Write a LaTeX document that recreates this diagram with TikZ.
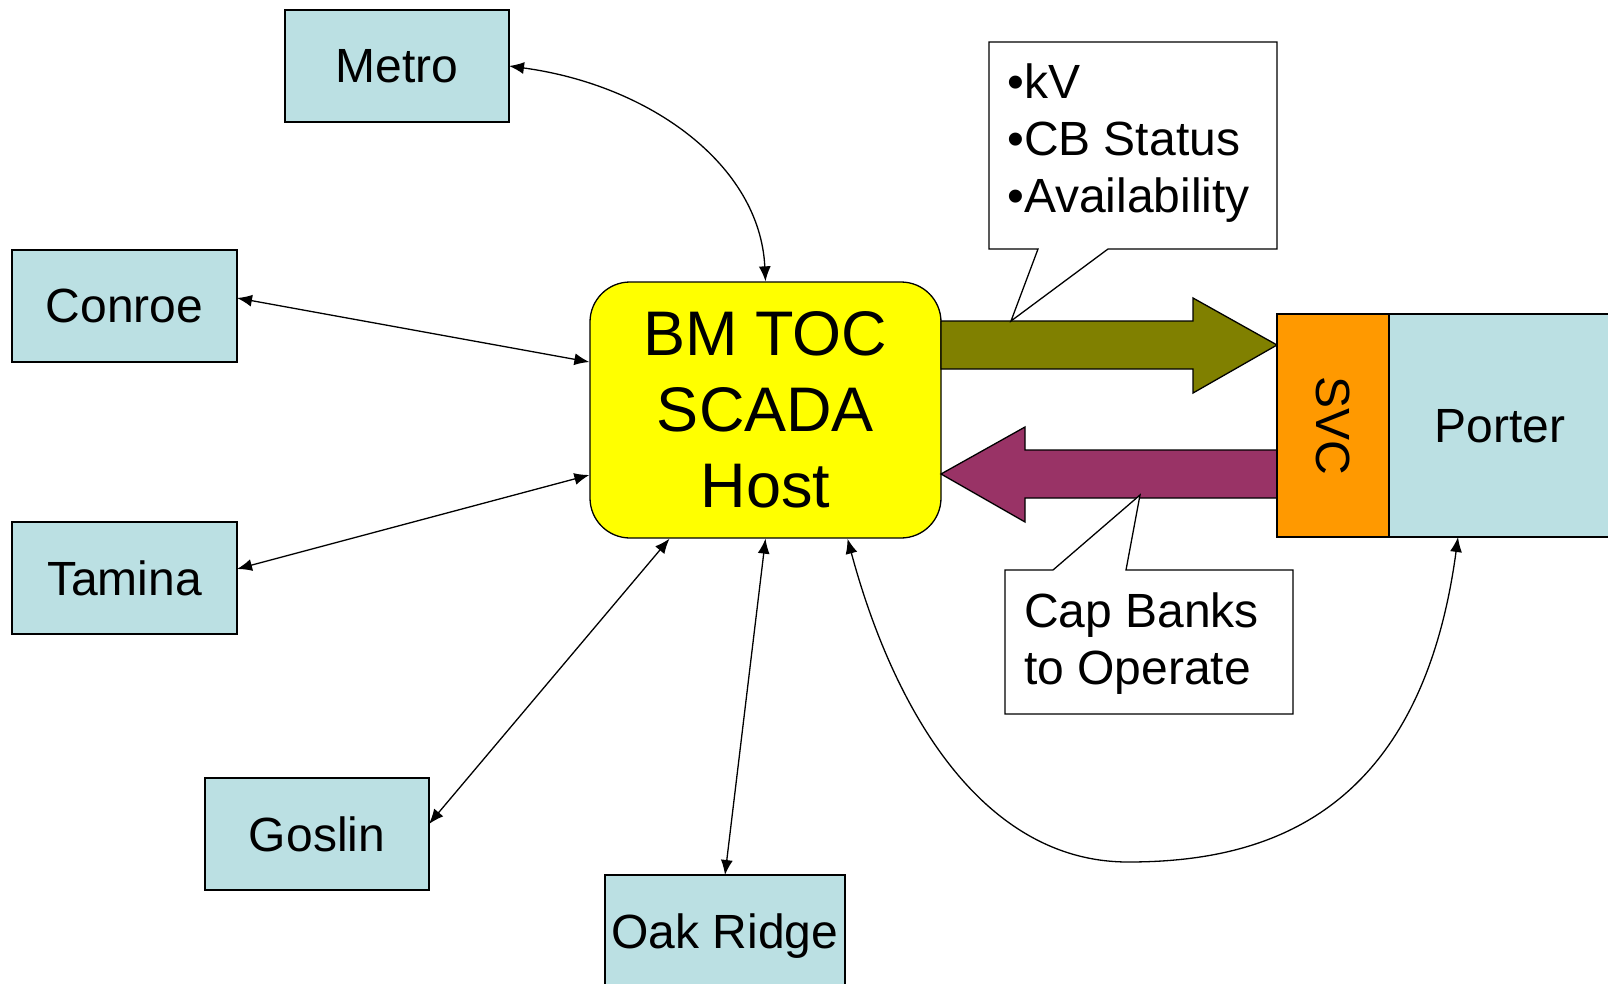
\documentclass[tikz,border=0pt]{standalone}
\usepackage{fontspec}
\setmainfont{Liberation Sans}
\usetikzlibrary{arrows.meta,calc}
\definecolor{lblue}{HTML}{BBE0E3}
\definecolor{scadayellow}{HTML}{FFFF00}
\definecolor{olivearrow}{HTML}{808000}
\definecolor{maroonarrow}{HTML}{993366}
\definecolor{svcorange}{HTML}{FF9900}
\begin{document}
\begin{tikzpicture}[x=1pt,y=-1pt,
  box/.style={draw=black, line width=1.3pt, fill=lblue, inner sep=0pt, outer sep=0pt,
    text depth=0pt, font=\fontsize{48}{57}\selectfont},
  link/.style={line width=1.3pt, {Latex[length=15pt,width=12pt]}-{Latex[length=15pt,width=12pt]}},
  callout/.style={draw=black, fill=white, line width=1.3pt},
  bigarrow/.style={draw=black, line width=1.3pt},
  calltext/.style={anchor=north west, inner sep=0pt, align=left, font=\fontsize{48}{57}\selectfont}]
\useasboundingbox (0,0) rectangle (1608,984);

% nodes
\node[box, minimum width=224pt, minimum height=112pt] (metro) at (397,66) {Metro};
\node[box, minimum width=225pt, minimum height=112pt] (conroe) at (124.5,306) {Conroe};
\node[box, minimum width=225pt, minimum height=112pt] (tamina) at (124.5,578) {Tamina};
\node[box, minimum width=224pt, minimum height=112pt] (goslin) at (317,834) {Goslin};
\node[box, minimum width=240pt, minimum height=112pt] (oak) at (725,931) {Oak Ridge};
\node[draw=black, line width=1.3pt, fill=scadayellow, rounded corners=40pt, inner sep=0pt,
  minimum width=351pt, minimum height=256pt, align=center,
  font=\fontsize{63}{76}\selectfont] (bm) at (765.5,410) {BM TOC\\SCADA\\Host};

% big arrows
\path[bigarrow, fill=olivearrow] (941,321) -- (1193,321) -- (1193,298) -- (1277,345)
  -- (1193,393) -- (1193,369) -- (941,369) -- cycle;
\path[bigarrow, fill=maroonarrow] (1277,450) -- (1025,450) -- (1025,427) -- (941,474)
  -- (1025,522) -- (1025,498) -- (1277,498) -- cycle;

% SVC and Porter
\node[box, fill=svcorange, minimum width=112pt, minimum height=223pt] (svc) at (1333,425.5) {};
\node[rotate=-90, inner sep=0pt, font=\fontsize{48}{57}\selectfont] (svclabel) at (svc.center) {SVC};
\node[box, minimum width=222pt, minimum height=223pt] (porter) at (1500,425.5) {Porter};

% callouts
\path[callout] (989,42) -- (1277,42) -- (1277,249) -- (1108,249) -- (1011,321)
  -- (1038,249) -- (989,249) -- cycle;
\node[calltext] (info) at (1007,64) {•kV\\•CB Status\\•Availability};
\path[callout] (1005,570) -- (1053,570) -- (1140,495) -- (1126,570) -- (1293,570)
  -- (1293,714) -- (1005,714) -- cycle;
\node[calltext] (cap) at (1024,593) {Cap Banks\\to Operate};

% connectors
\draw[link] (metro.east) .. controls (650,85) and (760,165) .. (bm.north);
\draw[link] ([yshift=8pt]conroe.east) -- ([yshift=48pt]bm.west);
\draw[link] ([yshift=9pt]tamina.east) -- ([yshift=-65pt]bm.west);
\draw[link] ([yshift=10pt]goslin.east) -- ([xshift=-96pt]bm.south);
\draw[link] (oak.north) -- (bm.south);
\draw[link] ([xshift=82pt]bm.south) .. controls (895,715) and (985,862) .. (1128,862)
  .. controls (1260,862) and (1420,820) .. ([xshift=-42pt]porter.south);
\end{tikzpicture}
\end{document}
